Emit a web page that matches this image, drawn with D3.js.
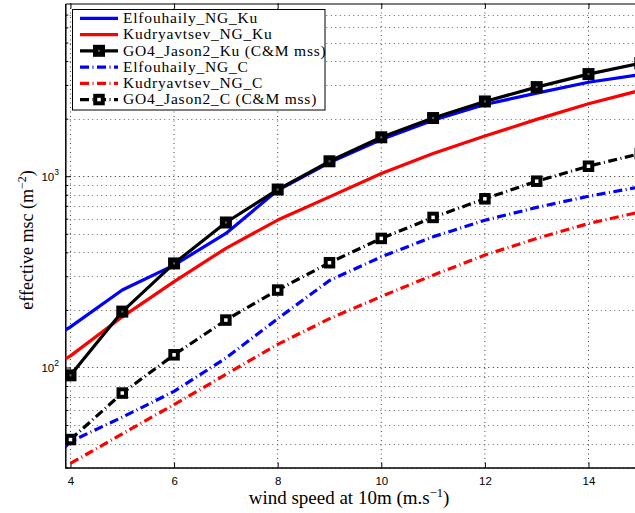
<!DOCTYPE html>
<html><head><meta charset="utf-8">
<script src="https://cdn.jsdelivr.net/npm/d3@7/dist/d3.min.js"></script>
<style>html,body{margin:0;padding:0;background:#fff;overflow:hidden}</style>
</head><body>
<svg id="chart" width="635" height="513"></svg>
<script>
// ---- data ----
const windSpeed = [4,5,6,7,8,9,10,11,12,13,14,15];
const modelWind = [3.9,4,5,6,7,8,9,10,11,12,13,14,15];
const elfouhailyKu  = [157,163,254,343,502,845,1180,1555,1960,2370,2720,3100,3400];
const kudryavtsevKu = [111,115,184,281,420,590,780,1033,1313,1622,1983,2395,2810];
const go4Ku         = [91,196,350,573,852,1197,1598,2015,2460,2924,3420,3900];
const elfouhailyC   = [38.5,41,55,75,112,180,285,379,482,589,687,786,880];
const kudryavtsevC  = [null,31.5,45,64,92,132,180,235,304,387,473,566,651];
const go4C          = [42,73.5,116.5,177,254,353,473,609,762,942,1128,1313];
const xTicks = [4,6,8,10,12,14];
const yMajorTicks = [100,1000];
const yMinorTicks = [30,40,50,60,70,80,90,200,300,400,500,600,700,800,900,2000,3000,4000,5000,6000,7000];
const legendLabels = ["Elfouhaily_NG_Ku","Kudryavtsev_NG_Ku","GO4_Jason2_Ku (C&M mss)","Elfouhaily_NG_C","Kudryavtsev_NG_C","GO4_Jason2_C (C&M mss)"];

const svg = d3.select("#chart");
const L = 65.3, R = 640.3, T = 3.5, B = 467.5;
const x = d3.scaleLinear().domain([3.9,15]).range([L,R]);
const y = d3.scaleLog().domain([30,8000]).range([B,T]);

svg.append("defs").append("clipPath").attr("id","clip")
  .append("rect").attr("x",L).attr("y",T).attr("width",R-L).attr("height",B-T);

// grid
const grid = svg.append("g");
grid.selectAll(".gx").data(xTicks).join("line")
  .attr("x1",d=>x(d)).attr("x2",d=>x(d)).attr("y1",T).attr("y2",B)
  .attr("stroke","#444").attr("stroke-width",1).attr("stroke-dasharray","1,3.5");
grid.selectAll(".gy").data(yMajorTicks.concat(yMinorTicks)).join("line")
  .attr("x1",L).attr("x2",R).attr("y1",d=>Math.round(y(d))+0.5).attr("y2",d=>Math.round(y(d))+0.5)
  .attr("stroke",d=>yMajorTicks.includes(d)?"#222":"#666").attr("stroke-width",1).attr("stroke-dasharray","1,3.5");

// axes
const fontSans = "'Liberation Sans', Arial, sans-serif";
const fontSerif = "'Liberation Serif', 'Times New Roman', serif";
const xAxisB = d3.axisBottom(x).tickValues(xTicks).tickSizeInner(-5).tickSizeOuter(0).tickPadding(9).tickFormat(d3.format("d"));
const gxb = svg.append("g").attr("transform",`translate(0,${B})`).call(xAxisB);
gxb.select(".domain").attr("stroke","#000").attr("stroke-width",1.5);
gxb.selectAll("text").attr("font-family",fontSans).attr("font-size",11.5).attr("fill","#000");
const xAxisT = d3.axisTop(x).tickValues(xTicks).tickSizeInner(-5).tickSizeOuter(0).tickFormat("");
const gxt = svg.append("g").attr("transform",`translate(0,${T})`).call(xAxisT);
gxt.select(".domain").attr("stroke","#000").attr("stroke-width",1.2);

const yAxisMajor = d3.axisLeft(y).tickValues(yMajorTicks).tickSizeInner(-5.5).tickSizeOuter(0).tickFormat("");
const gy = svg.append("g").attr("transform",`translate(${L},0)`).call(yAxisMajor);
gy.select(".domain").attr("stroke","#000").attr("stroke-width",1.5);
const yAxisMinor = d3.axisLeft(y).tickValues(yMinorTicks).tickSizeInner(-3).tickSizeOuter(0).tickFormat("");
const gym = svg.append("g").attr("transform",`translate(${L},0)`).call(yAxisMinor);
gym.select(".domain").remove();

// y tick labels with superscripts
yMajorTicks.forEach(v=>{
  const t = svg.append("text").attr("x",59).attr("y",y(v)+5).attr("text-anchor","end")
    .attr("font-family",fontSans).attr("font-size",11.5).attr("fill","#000");
  t.append("tspan").text("10");
  t.append("tspan").attr("dy",-6).attr("font-size",8.5).text(String(Math.round(Math.log10(v))));
});

// axis labels
const xl = svg.append("text").attr("x",349).attr("y",504).attr("text-anchor","middle")
  .attr("font-family",fontSerif).attr("font-size",19).attr("fill","#000");
xl.append("tspan").text("wind speed at 10m (m.s");
xl.append("tspan").attr("dy",-7.5).attr("font-size",12.5).text("\u22121");
xl.append("tspan").attr("dy",7.5).text(")");

const yl = svg.append("text").attr("transform",`translate(32.5,240) rotate(-90)`).attr("text-anchor","middle")
  .attr("font-family",fontSerif).attr("font-size",18).attr("fill","#000");
yl.append("tspan").text("effective msc (m");
yl.append("tspan").attr("dy",-7).attr("font-size",12).text("\u22122");
yl.append("tspan").attr("dy",7).text(")");

// series
const series = [
  {xs:modelWind, ys:elfouhailyKu, color:"#0000ff", dash:null, marker:null},
  {xs:modelWind, ys:kudryavtsevKu, color:"#ff0000", dash:null, marker:null},
  {xs:windSpeed, ys:go4Ku, color:"#000", dash:null, marker:"ku"},
  {xs:modelWind, ys:elfouhailyC, color:"#0000ff", dash:"9,3.5,1,3.5", marker:null},
  {xs:modelWind, ys:kudryavtsevC, color:"#ff0000", dash:"9,3.5,1,3.5", marker:null},
  {xs:windSpeed, ys:go4C, color:"#000", dash:"9,3.5,1,3.5", marker:"c"}
];
const plot = svg.append("g").attr("clip-path","url(#clip)");
const line = d3.line().defined(d=>d[1]!=null).x(d=>x(d[0])).y(d=>y(d[1]));
function drawMarker(g, cx, cy, type){
  const s = type==="ku" ? 7 : 7.5, w = type==="ku" ? 5 : 4;
  g.append("rect").attr("x",cx-s/2).attr("y",cy-s/2).attr("width",s).attr("height",s)
    .attr("fill",type==="ku"?"#666":"#fff").attr("stroke","#000").attr("stroke-width",w);
}
series.forEach(s=>{
  const pts = s.xs.map((v,i)=>[v,s.ys[i]]);
  plot.append("path").datum(pts).attr("d",line).attr("fill","none")
    .attr("stroke",s.color).attr("stroke-width",3.2)
    .attr("stroke-dasharray",s.dash).attr("stroke-linejoin","round");
});
series.forEach(s=>{
  if(!s.marker) return;
  s.xs.forEach((v,i)=>drawMarker(plot, x(v), y(s.ys[i]), s.marker));
});

// legend
const lg = svg.append("g");
lg.append("rect").attr("x",72.5).attr("y",9.5).attr("width",252.5).attr("height",100.5)
  .attr("fill","#fff").attr("stroke","#000").attr("stroke-width",1);
legendLabels.forEach((lab,i)=>{
  const cy = 18.3 + i*16.25;
  const s = series[i];
  lg.append("line").attr("x1",80).attr("x2",118).attr("y1",cy).attr("y2",cy)
    .attr("stroke",s.color).attr("stroke-width",3.2).attr("stroke-dasharray",s.dash);
  if(s.marker) drawMarker(lg, 99, cy, s.marker);
  lg.append("text").attr("x",123).attr("y",cy+4.8).attr("font-family",fontSerif)
    .attr("font-size",15.5).attr("letter-spacing",0.8).attr("fill","#000").text(lab);
});
</script>
</body></html>
